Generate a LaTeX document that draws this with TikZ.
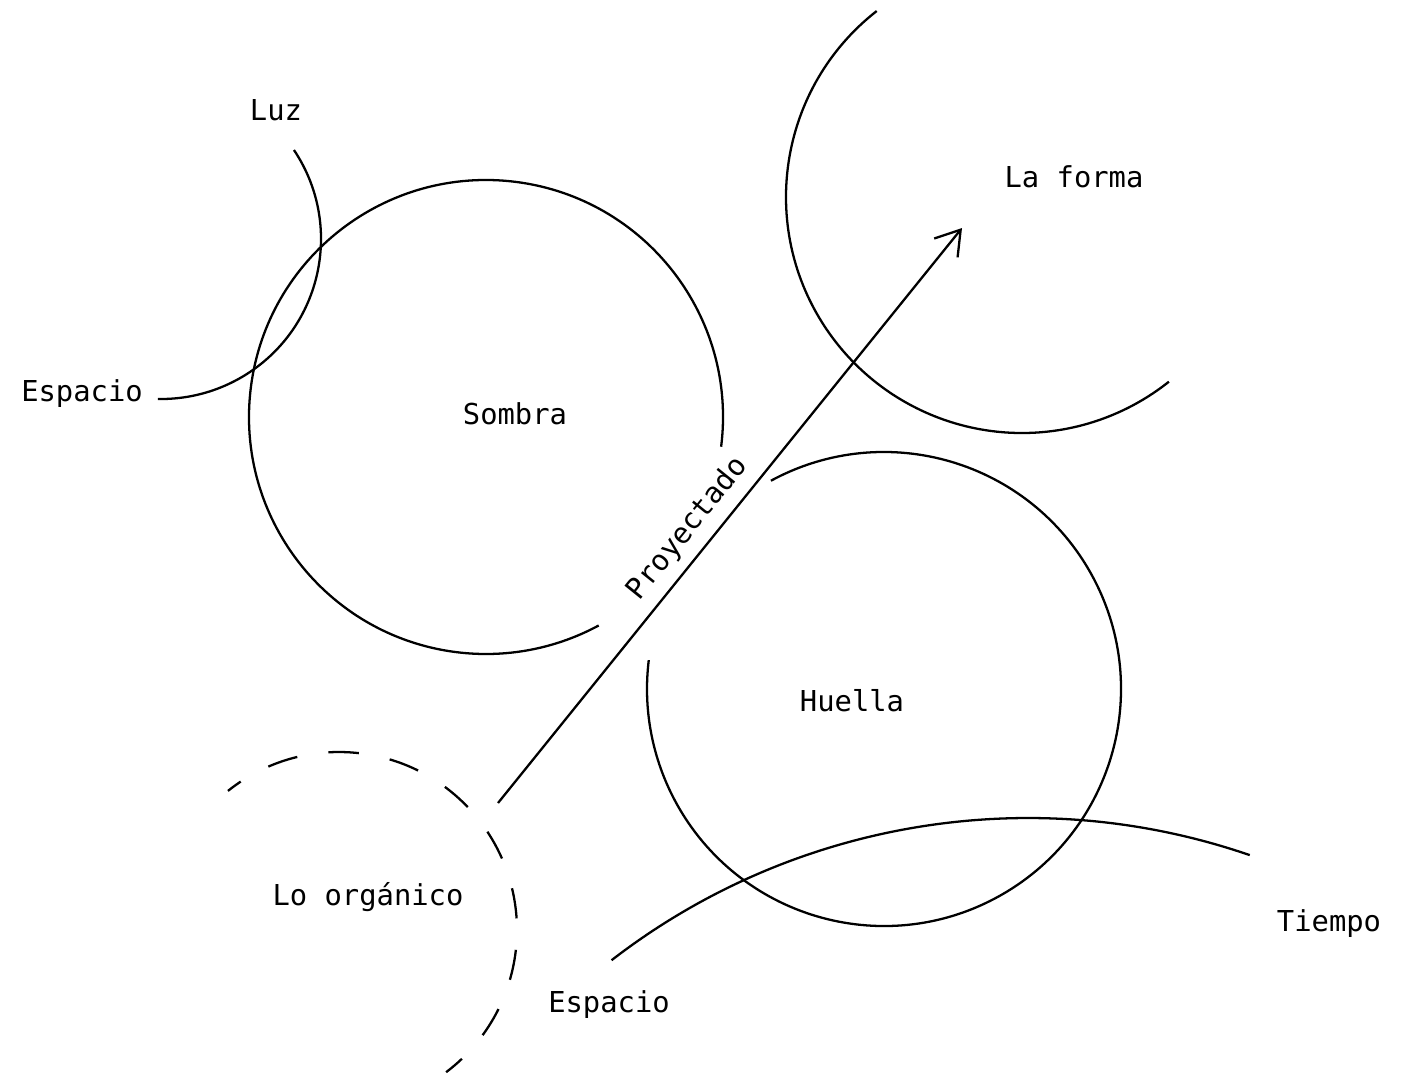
\documentclass[tikz,border=0pt]{standalone}
\usepackage{fontspec}
\newfontfamily\monofont{DejaVu Sans Mono}
\usetikzlibrary{arrows.meta}

\begin{document}
\begin{tikzpicture}[x=0.02cm, y=0.02cm, line width=1.3pt,
  word/.style={font=\monofont\fontsize{16.4}{20}\selectfont, anchor=base}]
  \useasboundingbox (0,0) rectangle (1404,-1073);

  % Labels
  \foreach \x/\y/\name/\txt in {276/-120/luz/Luz, 82/-401/espacioA/Espacio,
      515/-424/sombra/Sombra, 1074/-187/forma/La forma, 852/-711/huella/Huella,
      368/-905/organico/Lo orgánico, 609/-1012/espacioB/Espacio, 1329/-931/tiempo/Tiempo}
    \node[word] (\name) at (\x,\y) {\txt};

  % Arcs
  \foreach \cx/\cy/\r/\a/\b in {486/-417/237/-7.2/298.4, 884/-689/237/118.5/-187,
      161/-239/160/33.8/-91.1, 1022/-197/236/128/308.5, 1028/-1499/681/127.7/71}
    \draw (\cx,\cy) ++(\a:\r) arc[start angle=\a, end angle=\b, radius=\r];
  \draw[dash pattern=on 17.4pt off 17.9pt, dash phase=8.4pt]
    (339,-930) ++(128.6:178) arc[start angle=128.6, end angle=-53, radius=178];

  % Arrow
  \coordinate (projA) at (498,-803);
  \coordinate (projB) at (962,-228);
  \draw[-{Straight Barb[length=4.7mm, width=6mm]}] (projA) -- (projB)
    node[word, sloped, above=2pt, pos=.45] (proyectado) {Proyectado};
\end{tikzpicture}
\end{document}
